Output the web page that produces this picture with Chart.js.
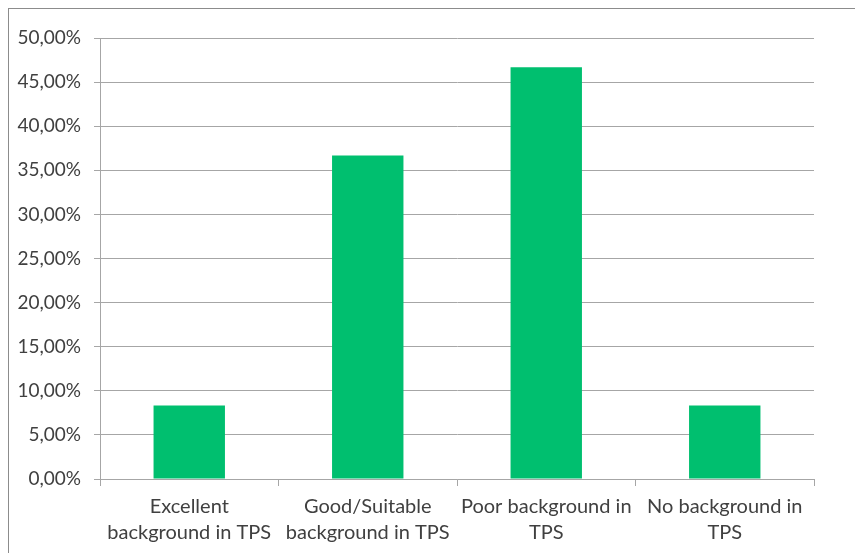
<!DOCTYPE html>
<html>
<head>
<meta charset="utf-8">
<script src="https://cdn.jsdelivr.net/npm/chart.js@4/dist/chart.umd.min.js"></script>
<style>
  html, body { margin: 0; padding: 0; background: #ffffff; overflow: hidden; }
  #wrap { position: relative; width: 855px; height: 553px; }
  #frame { position: absolute; left: 8px; top: 8px; width: 900px; height: 600px;
           border-left: 1px solid #8c8c8c; border-top: 1px solid #8c8c8c; }
  #c { position: absolute; left: 0; top: 0; }
</style>
</head>
<body>
<div id="wrap">
  <div id="frame"></div>
  <canvas id="c" width="855" height="553"></canvas>
</div>
<script>
// Share of respondents by background in TPS
const categories = [
  ["Excellent", "background in TPS"],
  ["Good/Suitable", "background in TPS"],
  ["Poor background in", "TPS"],
  ["No background in", "TPS"]
];
const shares = [8.33, 36.67, 46.67, 8.33];

const axisGrey = '#a6a6a6';
const textGrey = '#404040';
const family = 'Lato, "Open Sans", sans-serif';

new Chart(document.getElementById('c'), {
  type: 'bar',
  data: {
    labels: categories,
    datasets: [{
      data: shares,
      backgroundColor: '#00bf6f',
      borderWidth: 0,
      categoryPercentage: 1.0,
      barPercentage: 0.4
    }]
  },
  options: {
    responsive: false,
    animation: false,
    devicePixelRatio: 1,
    layout: { padding: { left: 0, right: 41, top: 38, bottom: 0 } },
    plugins: { legend: { display: false }, tooltip: { enabled: false } },
    scales: {
      x: {
        offset: true,
        grid: {
          offset: true,
          drawOnChartArea: false,
          drawTicks: true,
          tickLength: 7,
          color: axisGrey,
          lineWidth: 1
        },
        border: { display: true, color: axisGrey, width: 1 },
        ticks: {
          color: textGrey,
          font: { family: family, size: 20, lineHeight: 1.3 },
          padding: 8,
          maxRotation: 0,
          autoSkip: false
        },
        afterFit: s => { s.height = 74; }
      },
      y: {
        min: 0,
        max: 50,
        grid: { color: axisGrey, lineWidth: 1, tickLength: 6, drawTicks: true },
        border: { display: true, color: axisGrey, width: 1 },
        ticks: {
          stepSize: 5,
          color: textGrey,
          font: { family: family, size: 19 },
          padding: 13,
          callback: v => v.toFixed(2).replace('.', ',') + '%'
        },
        afterFit: s => { s.width = 100; }
      }
    }
  }
});
</script>
</body>
</html>
